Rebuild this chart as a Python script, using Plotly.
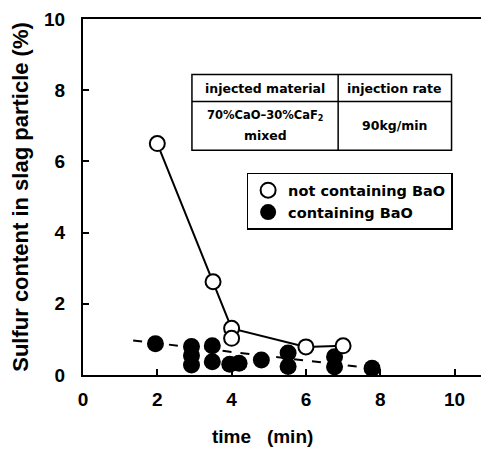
import plotly.graph_objects as go

# open circles: not containing BaO
open_x = [2.0, 3.5, 4.0, 6.0, 7.0]
open_y = [6.5, 2.62, 1.31, 0.79, 0.82]
open_extra_x = [4.0]
open_extra_y = [1.03]

# filled circles: containing BaO
fill_x = [1.95, 2.92, 2.92, 2.92, 3.48, 3.48, 3.95, 4.2, 4.8, 5.52, 5.52, 6.77, 6.77, 7.78]
fill_y = [0.88, 0.80, 0.55, 0.28, 0.82, 0.37, 0.30, 0.33, 0.42, 0.62, 0.24, 0.51, 0.23, 0.19]

# dashed trend line for "containing BaO"
fit_x = [1.35, 7.7]
fit_y = [0.97, 0.20]

x_ticks = [0, 2, 4, 6, 8, 10]
y_ticks = [0, 2, 4, 6, 8, 10]

FONT = "Liberation Sans, Arial, sans-serif"
TFONT = "DejaVu Sans, sans-serif"

fig = go.Figure()

fig.add_trace(go.Scatter(x=fit_x, y=fit_y, mode="lines",
                         line=dict(color="black", width=2, dash="dash"),
                         showlegend=False, hoverinfo="skip"))
fig.add_trace(go.Scatter(x=open_x, y=open_y, mode="lines",
                         line=dict(color="black", width=2),
                         showlegend=False, hoverinfo="skip"))
fig.add_trace(go.Scatter(x=fill_x, y=fill_y, mode="markers",
                         marker=dict(symbol="circle", size=17, color="black"),
                         name="containing BaO", showlegend=True, legendrank=2))
fig.add_trace(go.Scatter(x=open_x + open_extra_x, y=open_y + open_extra_y, mode="markers",
                         marker=dict(symbol="circle", size=15, color="white",
                                     line=dict(color="black", width=2)),
                         name="not containing BaO", showlegend=True, legendrank=1))

# table
tx0, tx1, tx2 = 0.269, 0.630, 0.910   # paper x of table borders
ty0, ty1, ty2 = 0.844, 0.768, 0.631   # paper y of table borders
for sh in [
    dict(type="rect", x0=tx0, x1=tx2, y0=ty2, y1=ty0),
    dict(type="line", x0=tx1, x1=tx1, y0=ty2, y1=ty0),
    dict(type="line", x0=tx0, x1=tx2, y0=ty1, y1=ty1),
]:
    fig.add_shape(xref="paper", yref="paper", line=dict(color="black", width=1.5), **sh)

def note(x, y, text, size=12.5):
    fig.add_annotation(xref="paper", yref="paper", x=x, y=y, text="<b>" + text + "</b>",
                       showarrow=False, font=dict(family=TFONT, size=size, color="black"),
                       xanchor="center", yanchor="middle")

note((tx0 + tx1) / 2, 0.805, "injected material")
note((tx1 + tx2) / 2, 0.805, "injection rate")
note((tx0 + tx1) / 2, 0.730, "70%CaO–30%CaF<sub>2</sub>", 11.5)
note((tx0 + tx1) / 2, 0.674, "mixed")
note((tx1 + tx2) / 2, 0.702, "90kg/min")

# x-axis title as annotation (sits left of plot centre in the reference)
fig.add_annotation(xref="paper", yref="paper", x=0.442, y=-0.173,
                   text="<b>time\u00a0\u00a0\u00a0(min)</b>", showarrow=False,
                   font=dict(family=FONT, size=19, color="black"),
                   xanchor="center", yanchor="middle")

fig.update_layout(
    width=481, height=442,
    margin=dict(l=75, r=1, t=8, b=75),
    paper_bgcolor="white", plot_bgcolor="white",
    font=dict(family=FONT, color="black"),
    legend=dict(x=0.404, y=0.568, xanchor="left", yanchor="top",
                bordercolor="black", borderwidth=1.5, bgcolor="white",
                font=dict(family=TFONT, size=14.5, weight="bold"), itemwidth=30,
                tracegroupgap=0),
    xaxis=dict(range=[0, 10.9], tickvals=x_ticks, ticks="inside", ticklen=6,
               tickwidth=1.5, tickcolor="black", showline=True, linecolor="black",
               linewidth=2, mirror=True, showgrid=False, zeroline=False,
               tickfont=dict(size=19, weight="bold"), ticklabelstandoff=6),
    yaxis=dict(range=[0, 10], tickvals=y_ticks, ticks="inside", ticklen=6,
               tickwidth=1.5, tickcolor="black", showline=True, linecolor="black",
               linewidth=2, mirror=False, showgrid=False, zeroline=False,
               ticklabeloverflow="allow",
               tickfont=dict(size=19, weight="bold"), ticklabelstandoff=12,
               title=dict(text="<b>Sulfur content in slag particle (%)</b>",
                          font=dict(family=FONT, size=22), standoff=11)),
)

fig.write_html("out.html")
